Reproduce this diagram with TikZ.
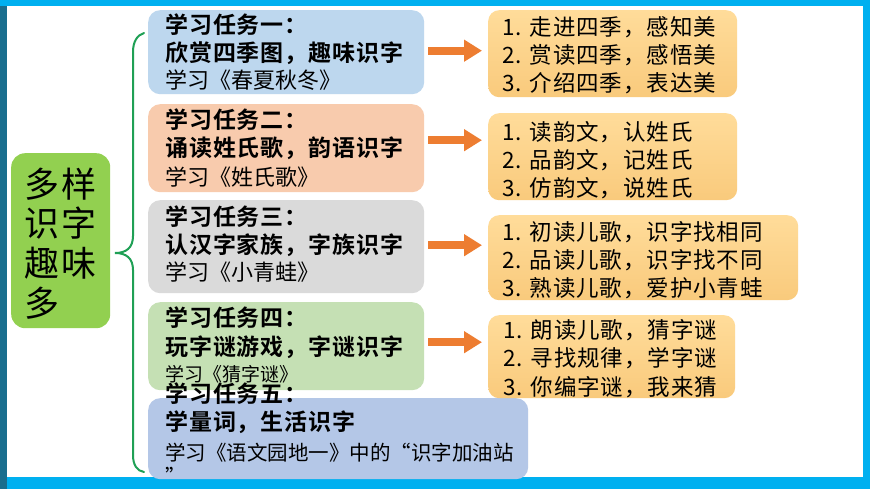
\documentclass[tikz,border=0pt]{standalone}
\usepackage{fontspec}
\usetikzlibrary{arrows.meta}
\newfontfamily\cjk{Noto Sans CJK SC}[BoldFont={Noto Sans CJK SC Bold}]
\newfontfamily\cjkwide{Noto Sans CJK SC}[LetterSpace=4, BoldFont={Noto Sans CJK SC Bold}]
\newfontfamily\cjkbig{Noto Sans CJK SC}[LetterSpace=8]
\definecolor{frameblue}{HTML}{00B0F0}
\definecolor{framedark}{HTML}{1A6E8E}
\definecolor{mainGreen}{HTML}{92D050}
\definecolor{braceGreen}{HTML}{1FA055}
\definecolor{tA}{HTML}{BDD7EE}
\definecolor{tB}{HTML}{F8CBAD}
\definecolor{tC}{HTML}{DADADA}
\definecolor{tD}{HTML}{C5E0B4}
\definecolor{tE}{HTML}{B4C7E7}
\definecolor{arrOrange}{HTML}{ED7D31}
\definecolor{resTop}{HTML}{FFDC9A}
\definecolor{resBot}{HTML}{F9CA7C}
\tikzset{
  taskbox/.style={rounded corners=12pt, anchor=north west, inner sep=0pt, draw=none},
  resbox/.style={rounded corners=11pt, anchor=north west, inner sep=0pt, draw=none,
     top color=resTop, bottom color=resBot},
  boldline/.style={anchor=west, inner sep=0pt, font=\cjkwide\bfseries\fontsize{23}{27}\selectfont},
  normline/.style={anchor=west, inner sep=0pt, font=\cjk\fontsize{22}{27}\selectfont},
  resline/.style={anchor=west, inner sep=0pt, font=\cjkwide\fontsize{22.5}{27}\selectfont},
  mainline/.style={anchor=west, inner sep=0pt, font=\cjkbig\fontsize{35}{40}\selectfont},
  bigarrow/.style={draw=arrOrange, line width=8pt, -{Triangle[width=21pt,length=18pt]}, arrOrange, shorten >=6pt},
}
\begin{document}
\begin{tikzpicture}[x=1pt,y=-1pt]
\useasboundingbox (0,0) rectangle (870,489);
% frame
\fill[frameblue] (0,0) rectangle (870,489);
\fill[framedark] (0,6) rectangle (7,489);
\fill[white] (7,6) rectangle (863,477);

% main green box
\node[rounded corners=14pt, fill=mainGreen, anchor=north west, minimum width=99pt, minimum height=175pt, inner sep=0pt] (main) at (11,153) {};
\node[mainline] (m1) at (24,184) {多样};
\node[mainline] (m2) at (24,223) {识字};
\node[mainline] (m3) at (24,263) {趣味};
\node[mainline] (m4) at (24,303) {多};

% brace
\coordinate (bt) at (144,33);
\coordinate (bm) at (115,253);
\coordinate (bb) at (144,472);
\draw[braceGreen, line width=2pt, line cap=round]
  (bt) .. controls (137,35) and (133,42) .. (133,52)
  -- (133,236) .. controls (133,248) and (126,253) .. (bm)
  .. controls (126,253) and (133,258) .. (133,270)
  -- (133,455) .. controls (133,465) and (137,471) .. (bb);

% task boxes
\node[taskbox, fill=tA, minimum width=276pt, minimum height=84pt] (t1) at (148,10) {};
\node[taskbox, fill=tB, minimum width=276pt, minimum height=88pt] (t2) at (148,104) {};
\node[taskbox, fill=tC, minimum width=276pt, minimum height=93pt] (t3) at (148,200) {};
\node[taskbox, fill=tD, minimum width=276pt, minimum height=88pt] (t4) at (148,302) {};
\node[taskbox, fill=tE, minimum width=380pt, minimum height=81pt] (t5) at (148,398) {};

% task texts
\node[boldline] (l11) at (165,25) {学习任务一：};
\node[boldline] (l12) at (165,53) {欣赏四季图，趣味识字};
\node[normline] (l13) at (165,80) {学习《春夏秋冬》};

\node[boldline] (l21) at (165,120) {学习任务二：};
\node[boldline] (l22) at (165,148) {诵读姓氏歌，韵语识字};
\node[normline] (l23) at (165,177) {学习《姓氏歌》};

\node[boldline] (l31) at (165,217) {学习任务三：};
\node[boldline] (l32) at (165,245) {认汉字家族，字族识字};
\node[normline] (l33) at (165,272) {学习《小青蛙》};

\node[boldline] (l41) at (165,318) {学习任务四：};
\node[boldline] (l42) at (165,347) {玩字谜游戏，字谜识字};
\node[anchor=west, inner sep=0pt, font=\cjk\fontsize{19}{22}\selectfont] (l43) at (165,374) {学习《猜字谜》};

\node[boldline] (l51) at (165,394) {学习任务五：};
\node[boldline] (l52) at (165,422) {学量词，生活识字};
\node[anchor=west, inner sep=0pt, font=\cjk\fontsize{20.5}{24}\selectfont] (l53) at (165,453) {学习《语文园地一》中的“识字加油站};
\node[anchor=west, inner sep=0pt, font=\cjk\fontsize{20.5}{24}\selectfont] (l54) at (165,476) {”};

% result boxes
\node[resbox, minimum width=249pt, minimum height=87pt] (r1) at (488,10) {};
\node[resbox, minimum width=249pt, minimum height=87pt] (r2) at (488,113) {};
\node[resbox, minimum width=310pt, minimum height=85pt] (r3) at (488,215) {};
\node[resbox, minimum width=247pt, minimum height=83pt] (r4) at (488,315) {};

\node[resline] (r11) at (502,27) {1. 走进四季，感知美};
\node[resline] (r12) at (502,55) {2. 赏读四季，感悟美};
\node[resline] (r13) at (502,83) {3. 介绍四季，表达美};

\node[resline] (r21) at (502,132) {1. 读韵文，认姓氏};
\node[resline] (r22) at (502,160) {2. 品韵文，记姓氏};
\node[resline] (r23) at (502,188) {3. 仿韵文，说姓氏};

\node[resline] (r31) at (502,232) {1. 初读儿歌，识字找相同};
\node[resline] (r32) at (502,260) {2. 品读儿歌，识字找不同};
\node[resline] (r33) at (502,288) {3. 熟读儿歌，爱护小青蛙};

\node[resline] (r41) at (503,330) {1. 朗读儿歌，猜字谜};
\node[resline] (r42) at (503,358) {2. 寻找规律，学字谜};
\node[resline] (r43) at (503,387) {3. 你编字谜，我来猜};

% arrows
\coordinate (a1) at ([xshift=4pt,yshift=1.5pt]t1.east);
\coordinate (a2) at ([xshift=4pt,yshift=8pt]t2.east);
\coordinate (a3) at ([xshift=4pt,yshift=1.5pt]t3.east);
\coordinate (a4) at ([xshift=4pt,yshift=4pt]t4.east);
\draw[bigarrow] (a1) -- (a1 -| r1.west);
\draw[bigarrow] (a2) -- (a2 -| r2.west);
\draw[bigarrow] (a3) -- (a3 -| r3.west);
\draw[bigarrow] (a4) -- (a4 -| r4.west);
\end{tikzpicture}
\end{document}
